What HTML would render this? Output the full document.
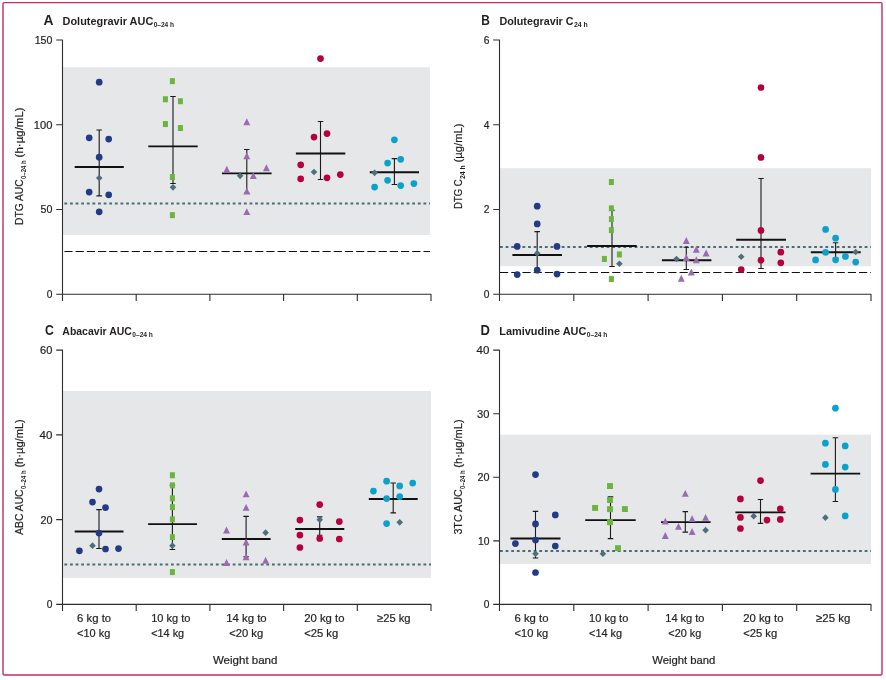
<!DOCTYPE html>
<html lang="en">
<head>
<meta charset="utf-8">
<title>Figure: pharmacokinetic parameters by weight band</title>
<style>
html,body{margin:0;padding:0;background:#fff;}
body{width:886px;height:680px;overflow:hidden;}
svg{display:block;}
svg text{font-family:"Liberation Sans",sans-serif;fill:#231f20;stroke:#231f20;stroke-width:0.22px;paint-order:stroke fill;}
svg text.t{stroke:none;}
</style>
</head>
<body>
<svg width="886" height="680" viewBox="0 0 886 680">
<rect width="886" height="680" fill="#fff"/>
<rect x="3" y="2.6" width="879" height="672.4" rx="1.2" ry="1.2" fill="#fff" stroke="#c42e5d" stroke-width="1.4"/>
<rect x="62.5" y="67.2" width="367.5" height="167.8" fill="#e6e7e9"/>
<path d="M64.4 251.5H430.0" stroke="#111" stroke-width="1" stroke-dasharray="8.2 3.02" fill="none"/>
<text x="52.4" y="43.9" font-size="11.5" font-weight="normal" text-anchor="end" textLength="17.7" lengthAdjust="spacingAndGlyphs">150</text>
<text x="52.4" y="128.7" font-size="11.5" font-weight="normal" text-anchor="end" textLength="18.6" lengthAdjust="spacingAndGlyphs">100</text>
<text x="52.4" y="213.4" font-size="11.5" font-weight="normal" text-anchor="end" textLength="11.9" lengthAdjust="spacingAndGlyphs">50</text>
<text x="52.4" y="298.2" font-size="11.5" font-weight="normal" text-anchor="end" textLength="5.7" lengthAdjust="spacingAndGlyphs">0</text>
<path d="M64.4 203.5H430.0" stroke="#4a6d74" stroke-width="2.0" stroke-dasharray="2.8 2.81" fill="none"/>
<path d="M56.2 40.00H62.5V301.0M56.2 294.30H431.0v6.7M56.2 124.77H62.5M56.2 209.53H62.5M136.20 294.30v6.7M209.90 294.30v6.7M283.60 294.30v6.7M357.30 294.30v6.7" stroke="#2e2e2e" stroke-width="1.1" stroke-linejoin="round" fill="none"/>
<path d="M99.20 130.05V195.85M96.45 130.05h5.5M96.45 195.85h5.5" stroke="#1a1a1a" stroke-width="1.1" fill="none"/>
<path d="M74.70 167.05H123.80" stroke="#111" stroke-width="1.9" fill="none"/>
<circle cx="99.2" cy="82.2" r="3.35" fill="#233a85"/>
<circle cx="89.2" cy="137.8" r="3.35" fill="#233a85"/>
<circle cx="108.7" cy="139.1" r="3.35" fill="#233a85"/>
<circle cx="99.2" cy="157.2" r="3.35" fill="#233a85"/>
<circle cx="89.2" cy="192.1" r="3.35" fill="#233a85"/>
<circle cx="108.7" cy="194.8" r="3.35" fill="#233a85"/>
<circle cx="99.2" cy="211.8" r="3.35" fill="#233a85"/>
<path d="M99.20 174.75L102.50 178.05L99.20 181.35L95.90 178.05Z" fill="#4d6f7a"/>
<path d="M173.00 96.45V183.55M170.25 96.45h5.5M170.25 183.55h5.5" stroke="#1a1a1a" stroke-width="1.1" fill="none"/>
<path d="M148.30 146.35H197.70" stroke="#111" stroke-width="1.9" fill="none"/>
<rect x="169.90" y="78.15" width="5.0" height="6.0" fill="#6bb43f"/>
<rect x="162.90" y="96.25" width="5.0" height="6.0" fill="#6bb43f"/>
<rect x="177.90" y="98.25" width="5.0" height="6.0" fill="#6bb43f"/>
<rect x="162.90" y="121.05" width="5.0" height="6.0" fill="#6bb43f"/>
<rect x="177.90" y="125.05" width="5.0" height="6.0" fill="#6bb43f"/>
<rect x="169.90" y="174.05" width="5.0" height="6.0" fill="#6bb43f"/>
<rect x="169.90" y="212.15" width="5.0" height="6.0" fill="#6bb43f"/>
<path d="M173.00 184.05L176.30 187.35L173.00 190.65L169.70 187.35Z" fill="#4d6f7a"/>
<path d="M246.80 149.55V193.25M244.05 149.55h5.5M244.05 193.25h5.5" stroke="#1a1a1a" stroke-width="1.1" fill="none"/>
<path d="M222.00 173.35H271.60" stroke="#111" stroke-width="1.9" fill="none"/>
<path d="M246.80 118.30L250.25 125.20H243.35Z" fill="#9a6bb1"/>
<path d="M246.80 152.30L250.25 159.20H243.35Z" fill="#9a6bb1"/>
<path d="M226.80 165.80L230.25 172.70H223.35Z" fill="#9a6bb1"/>
<path d="M266.40 164.30L269.85 171.20H262.95Z" fill="#9a6bb1"/>
<path d="M253.30 172.10L256.75 179.00H249.85Z" fill="#9a6bb1"/>
<path d="M246.80 187.60L250.25 194.50H243.35Z" fill="#9a6bb1"/>
<path d="M246.80 208.20L250.25 215.10H243.35Z" fill="#9a6bb1"/>
<path d="M240.10 172.55L243.40 175.85L240.10 179.15L236.80 175.85Z" fill="#4d6f7a"/>
<path d="M320.50 121.55V179.55M317.75 121.55h5.5M317.75 179.55h5.5" stroke="#1a1a1a" stroke-width="1.1" fill="none"/>
<path d="M295.90 153.45H345.30" stroke="#111" stroke-width="1.9" fill="none"/>
<circle cx="320.5" cy="58.6" r="3.35" fill="#b5003b"/>
<circle cx="314.0" cy="137.1" r="3.35" fill="#b5003b"/>
<circle cx="327.0" cy="133.6" r="3.35" fill="#b5003b"/>
<circle cx="300.7" cy="164.8" r="3.35" fill="#b5003b"/>
<circle cx="300.7" cy="178.8" r="3.35" fill="#b5003b"/>
<circle cx="327.0" cy="177.8" r="3.35" fill="#b5003b"/>
<circle cx="340.3" cy="174.6" r="3.35" fill="#b5003b"/>
<path d="M314.00 168.75L317.30 172.05L314.00 175.35L310.70 172.05Z" fill="#4d6f7a"/>
<path d="M394.40 158.65V184.55M391.65 158.65h5.5M391.65 184.55h5.5" stroke="#1a1a1a" stroke-width="1.1" fill="none"/>
<path d="M369.80 172.25H419.00" stroke="#111" stroke-width="1.9" fill="none"/>
<circle cx="394.4" cy="139.8" r="3.35" fill="#0aa2cb"/>
<circle cx="400.7" cy="159.3" r="3.35" fill="#0aa2cb"/>
<circle cx="387.6" cy="163.1" r="3.35" fill="#0aa2cb"/>
<circle cx="387.6" cy="180.3" r="3.35" fill="#0aa2cb"/>
<circle cx="374.6" cy="187.1" r="3.35" fill="#0aa2cb"/>
<circle cx="400.7" cy="185.6" r="3.35" fill="#0aa2cb"/>
<circle cx="413.9" cy="183.6" r="3.35" fill="#0aa2cb"/>
<path d="M374.60 169.55L377.90 172.85L374.60 176.15L371.30 172.85Z" fill="#4d6f7a"/>
<rect x="499.5" y="168.2" width="371.5" height="98.0" fill="#e6e7e9"/>
<path d="M500.0 272.5H871.0" stroke="#111" stroke-width="1" stroke-dasharray="8.2 3.02" fill="none"/>
<text x="489.4" y="43.9" font-size="11.5" font-weight="normal" text-anchor="end" textLength="5.7" lengthAdjust="spacingAndGlyphs">6</text>
<text x="489.4" y="128.7" font-size="11.5" font-weight="normal" text-anchor="end" textLength="5.7" lengthAdjust="spacingAndGlyphs">4</text>
<text x="489.4" y="213.4" font-size="11.5" font-weight="normal" text-anchor="end" textLength="5.7" lengthAdjust="spacingAndGlyphs">2</text>
<text x="489.4" y="298.2" font-size="11.5" font-weight="normal" text-anchor="end" textLength="5.7" lengthAdjust="spacingAndGlyphs">0</text>
<path d="M500.0 246.9H871.0" stroke="#4a6d74" stroke-width="2.0" stroke-dasharray="2.8 2.81" fill="none"/>
<path d="M493.2 40.00H499.5V301.0M493.2 294.30H871.0v6.7M493.2 124.77H499.5M493.2 209.53H499.5M573.80 294.30v6.7M648.10 294.30v6.7M722.40 294.30v6.7M796.70 294.30v6.7" stroke="#2e2e2e" stroke-width="1.1" stroke-linejoin="round" fill="none"/>
<path d="M537.20 231.65V270.25M534.45 231.65h5.5M534.45 270.25h5.5" stroke="#1a1a1a" stroke-width="1.1" fill="none"/>
<path d="M512.40 254.95H562.00" stroke="#111" stroke-width="1.9" fill="none"/>
<circle cx="537.2" cy="206.2" r="3.35" fill="#233a85"/>
<circle cx="537.2" cy="223.9" r="3.35" fill="#233a85"/>
<circle cx="517.2" cy="246.4" r="3.35" fill="#233a85"/>
<circle cx="557.0" cy="246.4" r="3.35" fill="#233a85"/>
<circle cx="537.2" cy="270.2" r="3.35" fill="#233a85"/>
<circle cx="517.2" cy="274.6" r="3.35" fill="#233a85"/>
<circle cx="557.0" cy="274.1" r="3.35" fill="#233a85"/>
<path d="M537.20 249.95L540.50 253.25L537.20 256.55L533.90 253.25Z" fill="#4d6f7a"/>
<path d="M612.00 210.25V266.55M609.25 210.25h5.5M609.25 266.55h5.5" stroke="#1a1a1a" stroke-width="1.1" fill="none"/>
<path d="M587.10 245.95H636.70" stroke="#111" stroke-width="1.9" fill="none"/>
<rect x="608.90" y="179.05" width="5.0" height="6.0" fill="#6bb43f"/>
<rect x="608.90" y="205.35" width="5.0" height="6.0" fill="#6bb43f"/>
<rect x="608.90" y="216.15" width="5.0" height="6.0" fill="#6bb43f"/>
<rect x="608.90" y="227.15" width="5.0" height="6.0" fill="#6bb43f"/>
<rect x="616.90" y="251.45" width="5.0" height="6.0" fill="#6bb43f"/>
<rect x="601.90" y="255.95" width="5.0" height="6.0" fill="#6bb43f"/>
<rect x="608.90" y="276.05" width="5.0" height="6.0" fill="#6bb43f"/>
<path d="M619.40 260.45L622.70 263.75L619.40 267.05L616.10 263.75Z" fill="#4d6f7a"/>
<path d="M686.30 247.25V269.55M683.55 247.25h5.5M683.55 269.55h5.5" stroke="#1a1a1a" stroke-width="1.1" fill="none"/>
<path d="M661.90 260.25H711.40" stroke="#111" stroke-width="1.9" fill="none"/>
<path d="M686.30 237.00L689.75 243.90H682.85Z" fill="#9a6bb1"/>
<path d="M696.30 245.80L699.75 252.70H692.85Z" fill="#9a6bb1"/>
<path d="M706.10 249.50L709.55 256.40H702.65Z" fill="#9a6bb1"/>
<path d="M686.30 254.00L689.75 260.90H682.85Z" fill="#9a6bb1"/>
<path d="M696.30 256.30L699.75 263.20H692.85Z" fill="#9a6bb1"/>
<path d="M691.30 268.60L694.75 275.50H687.85Z" fill="#9a6bb1"/>
<path d="M681.30 274.80L684.75 281.70H677.85Z" fill="#9a6bb1"/>
<path d="M676.50 255.65L679.80 258.95L676.50 262.25L673.20 258.95Z" fill="#4d6f7a"/>
<path d="M761.00 178.55V268.55M758.25 178.55h5.5M758.25 268.55h5.5" stroke="#1a1a1a" stroke-width="1.1" fill="none"/>
<path d="M736.20 239.75H786.00" stroke="#111" stroke-width="1.9" fill="none"/>
<circle cx="761.0" cy="87.5" r="3.35" fill="#b5003b"/>
<circle cx="761.0" cy="157.4" r="3.35" fill="#b5003b"/>
<circle cx="761.0" cy="230.4" r="3.35" fill="#b5003b"/>
<circle cx="780.8" cy="252.2" r="3.35" fill="#b5003b"/>
<circle cx="761.0" cy="260.2" r="3.35" fill="#b5003b"/>
<circle cx="780.8" cy="262.8" r="3.35" fill="#b5003b"/>
<circle cx="741.2" cy="269.6" r="3.35" fill="#b5003b"/>
<path d="M741.20 253.45L744.50 256.75L741.20 260.05L737.90 256.75Z" fill="#4d6f7a"/>
<path d="M835.60 242.75V257.95M832.85 242.75h5.5M832.85 257.95h5.5" stroke="#1a1a1a" stroke-width="1.1" fill="none"/>
<path d="M810.80 252.25H860.70" stroke="#111" stroke-width="1.9" fill="none"/>
<circle cx="825.6" cy="229.4" r="3.35" fill="#0aa2cb"/>
<circle cx="835.6" cy="238.2" r="3.35" fill="#0aa2cb"/>
<circle cx="825.6" cy="252.4" r="3.35" fill="#0aa2cb"/>
<circle cx="845.4" cy="256.4" r="3.35" fill="#0aa2cb"/>
<circle cx="815.6" cy="259.9" r="3.35" fill="#0aa2cb"/>
<circle cx="835.6" cy="259.8" r="3.35" fill="#0aa2cb"/>
<circle cx="855.7" cy="262.1" r="3.35" fill="#0aa2cb"/>
<path d="M855.70 248.65L859.00 251.95L855.70 255.25L852.40 251.95Z" fill="#4d6f7a"/>
<rect x="62.5" y="390.9" width="368.5" height="187.0" fill="#e6e7e9"/>
<text x="52.4" y="354.0" font-size="11.5" font-weight="normal" text-anchor="end" textLength="12.3" lengthAdjust="spacingAndGlyphs">60</text>
<text x="52.4" y="438.8" font-size="11.5" font-weight="normal" text-anchor="end" textLength="12.8" lengthAdjust="spacingAndGlyphs">40</text>
<text x="52.4" y="523.5" font-size="11.5" font-weight="normal" text-anchor="end" textLength="12.0" lengthAdjust="spacingAndGlyphs">20</text>
<text x="52.4" y="608.3" font-size="11.5" font-weight="normal" text-anchor="end" textLength="5.7" lengthAdjust="spacingAndGlyphs">0</text>
<path d="M64.4 564.4H431.0" stroke="#4a6d74" stroke-width="2.0" stroke-dasharray="2.8 2.81" fill="none"/>
<path d="M56.2 350.10H62.5V611.1M56.2 604.40H431.0v6.7M56.2 434.87H62.5M56.2 519.63H62.5M136.20 604.40v6.7M209.90 604.40v6.7M283.60 604.40v6.7M357.30 604.40v6.7" stroke="#2e2e2e" stroke-width="1.1" stroke-linejoin="round" fill="none"/>
<path d="M99.00 509.65V548.45M96.25 509.65h5.5M96.25 548.45h5.5" stroke="#1a1a1a" stroke-width="1.1" fill="none"/>
<path d="M74.70 531.45H123.50" stroke="#111" stroke-width="1.9" fill="none"/>
<circle cx="99.0" cy="489.1" r="3.35" fill="#233a85"/>
<circle cx="92.5" cy="502.1" r="3.35" fill="#233a85"/>
<circle cx="105.5" cy="507.6" r="3.35" fill="#233a85"/>
<circle cx="99.0" cy="533.1" r="3.35" fill="#233a85"/>
<circle cx="79.4" cy="550.8" r="3.35" fill="#233a85"/>
<circle cx="105.5" cy="549.0" r="3.35" fill="#233a85"/>
<circle cx="118.5" cy="548.6" r="3.35" fill="#233a85"/>
<path d="M92.50 542.35L95.80 545.65L92.50 548.95L89.20 545.65Z" fill="#4d6f7a"/>
<path d="M172.40 485.25V549.45M169.65 485.25h5.5M169.65 549.45h5.5" stroke="#1a1a1a" stroke-width="1.1" fill="none"/>
<path d="M148.10 524.15H197.00" stroke="#111" stroke-width="1.9" fill="none"/>
<rect x="169.90" y="472.25" width="5.0" height="6.0" fill="#6bb43f"/>
<rect x="169.90" y="482.35" width="5.0" height="6.0" fill="#6bb43f"/>
<rect x="169.90" y="495.35" width="5.0" height="6.0" fill="#6bb43f"/>
<rect x="169.90" y="504.15" width="5.0" height="6.0" fill="#6bb43f"/>
<rect x="169.90" y="516.35" width="5.0" height="6.0" fill="#6bb43f"/>
<rect x="169.90" y="534.15" width="5.0" height="6.0" fill="#6bb43f"/>
<rect x="169.90" y="569.05" width="5.0" height="6.0" fill="#6bb43f"/>
<path d="M172.40 542.35L175.70 545.65L172.40 548.95L169.10 545.65Z" fill="#4d6f7a"/>
<path d="M246.10 516.35V556.75M243.35 516.35h5.5M243.35 556.75h5.5" stroke="#1a1a1a" stroke-width="1.1" fill="none"/>
<path d="M221.80 538.95H270.60" stroke="#111" stroke-width="1.9" fill="none"/>
<path d="M246.10 490.40L249.55 497.30H242.65Z" fill="#9a6bb1"/>
<path d="M246.10 503.90L249.55 510.80H242.65Z" fill="#9a6bb1"/>
<path d="M226.50 526.50L229.95 533.40H223.05Z" fill="#9a6bb1"/>
<path d="M246.10 538.50L249.55 545.40H242.65Z" fill="#9a6bb1"/>
<path d="M246.10 553.30L249.55 560.20H242.65Z" fill="#9a6bb1"/>
<path d="M226.50 559.00L229.95 565.90H223.05Z" fill="#9a6bb1"/>
<path d="M265.60 556.80L269.05 563.70H262.15Z" fill="#9a6bb1"/>
<path d="M265.60 529.35L268.90 532.65L265.60 535.95L262.30 532.65Z" fill="#4d6f7a"/>
<path d="M319.70 516.85V535.25M316.95 516.85h5.5M316.95 535.25h5.5" stroke="#1a1a1a" stroke-width="1.1" fill="none"/>
<path d="M295.20 528.95H344.30" stroke="#111" stroke-width="1.9" fill="none"/>
<circle cx="319.7" cy="504.6" r="3.35" fill="#b5003b"/>
<circle cx="299.9" cy="520.1" r="3.35" fill="#b5003b"/>
<circle cx="339.3" cy="521.6" r="3.35" fill="#b5003b"/>
<circle cx="299.9" cy="535.1" r="3.35" fill="#b5003b"/>
<circle cx="319.7" cy="538.5" r="3.35" fill="#b5003b"/>
<circle cx="339.3" cy="539.0" r="3.35" fill="#b5003b"/>
<circle cx="299.9" cy="547.5" r="3.35" fill="#b5003b"/>
<path d="M319.70 516.35L323.00 519.65L319.70 522.95L316.40 519.65Z" fill="#4d6f7a"/>
<path d="M393.20 483.05V512.85M390.45 483.05h5.5M390.45 512.85h5.5" stroke="#1a1a1a" stroke-width="1.1" fill="none"/>
<path d="M368.80 499.05H417.70" stroke="#111" stroke-width="1.9" fill="none"/>
<circle cx="386.6" cy="481.2" r="3.35" fill="#0aa2cb"/>
<circle cx="412.7" cy="483.1" r="3.35" fill="#0aa2cb"/>
<circle cx="399.7" cy="485.9" r="3.35" fill="#0aa2cb"/>
<circle cx="373.4" cy="491.1" r="3.35" fill="#0aa2cb"/>
<circle cx="399.7" cy="496.6" r="3.35" fill="#0aa2cb"/>
<circle cx="386.6" cy="498.6" r="3.35" fill="#0aa2cb"/>
<circle cx="386.6" cy="523.6" r="3.35" fill="#0aa2cb"/>
<path d="M399.70 519.05L403.00 522.35L399.70 525.65L396.40 522.35Z" fill="#4d6f7a"/>
<rect x="499.5" y="434.7" width="371.5" height="129.2" fill="#e6e7e9"/>
<text x="489.4" y="354.0" font-size="11.5" font-weight="normal" text-anchor="end" textLength="12.8" lengthAdjust="spacingAndGlyphs">40</text>
<text x="489.4" y="417.6" font-size="11.5" font-weight="normal" text-anchor="end" textLength="12.4" lengthAdjust="spacingAndGlyphs">30</text>
<text x="489.4" y="481.1" font-size="11.5" font-weight="normal" text-anchor="end" textLength="12.0" lengthAdjust="spacingAndGlyphs">20</text>
<text x="489.4" y="544.7" font-size="11.5" font-weight="normal" text-anchor="end" textLength="11.5" lengthAdjust="spacingAndGlyphs">10</text>
<text x="489.4" y="608.3" font-size="11.5" font-weight="normal" text-anchor="end" textLength="5.7" lengthAdjust="spacingAndGlyphs">0</text>
<path d="M500.0 550.9H871.0" stroke="#4a6d74" stroke-width="2.0" stroke-dasharray="2.8 2.81" fill="none"/>
<path d="M493.2 350.10H499.5V611.1M493.2 604.40H871.0v6.7M493.2 413.68H499.5M493.2 477.25H499.5M493.2 540.83H499.5M573.80 604.40v6.7M648.10 604.40v6.7M722.40 604.40v6.7M796.70 604.40v6.7" stroke="#2e2e2e" stroke-width="1.1" stroke-linejoin="round" fill="none"/>
<path d="M535.50 511.35V557.95M532.75 511.35h5.5M532.75 557.95h5.5" stroke="#1a1a1a" stroke-width="1.1" fill="none"/>
<path d="M510.40 538.45H560.50" stroke="#111" stroke-width="1.9" fill="none"/>
<circle cx="535.5" cy="474.6" r="3.35" fill="#233a85"/>
<circle cx="555.3" cy="514.9" r="3.35" fill="#233a85"/>
<circle cx="535.5" cy="523.9" r="3.35" fill="#233a85"/>
<circle cx="535.5" cy="540.0" r="3.35" fill="#233a85"/>
<circle cx="515.4" cy="543.6" r="3.35" fill="#233a85"/>
<circle cx="555.3" cy="546.0" r="3.35" fill="#233a85"/>
<circle cx="535.5" cy="572.5" r="3.35" fill="#233a85"/>
<path d="M535.50 550.45L538.80 553.75L535.50 557.05L532.20 553.75Z" fill="#4d6f7a"/>
<path d="M610.50 496.85V538.65M607.75 496.85h5.5M607.75 538.65h5.5" stroke="#1a1a1a" stroke-width="1.1" fill="none"/>
<path d="M585.20 520.15H635.70" stroke="#111" stroke-width="1.9" fill="none"/>
<rect x="607.05" y="483.10" width="5.9" height="5.9" fill="#6bb43f"/>
<rect x="607.05" y="497.10" width="5.9" height="5.9" fill="#6bb43f"/>
<rect x="592.15" y="505.00" width="5.9" height="5.9" fill="#6bb43f"/>
<rect x="607.05" y="506.20" width="5.9" height="5.9" fill="#6bb43f"/>
<rect x="621.95" y="506.10" width="5.9" height="5.9" fill="#6bb43f"/>
<rect x="607.05" y="519.20" width="5.9" height="5.9" fill="#6bb43f"/>
<rect x="615.05" y="545.20" width="5.9" height="5.9" fill="#6bb43f"/>
<path d="M602.90 550.45L606.20 553.75L602.90 557.05L599.60 553.75Z" fill="#4d6f7a"/>
<path d="M685.30 511.65V532.15M682.55 511.65h5.5M682.55 532.15h5.5" stroke="#1a1a1a" stroke-width="1.1" fill="none"/>
<path d="M661.00 522.15H710.60" stroke="#111" stroke-width="1.9" fill="none"/>
<path d="M685.30 489.90L688.75 496.80H681.85Z" fill="#9a6bb1"/>
<path d="M705.60 513.90L709.05 520.80H702.15Z" fill="#9a6bb1"/>
<path d="M692.10 515.20L695.55 522.10H688.65Z" fill="#9a6bb1"/>
<path d="M665.30 517.70L668.75 524.60H661.85Z" fill="#9a6bb1"/>
<path d="M678.50 522.90L681.95 529.80H675.05Z" fill="#9a6bb1"/>
<path d="M692.10 528.00L695.55 534.90H688.65Z" fill="#9a6bb1"/>
<path d="M665.30 532.00L668.75 538.90H661.85Z" fill="#9a6bb1"/>
<path d="M705.60 526.85L708.90 530.15L705.60 533.45L702.30 530.15Z" fill="#4d6f7a"/>
<path d="M760.50 499.55V523.35M757.75 499.55h5.5M757.75 523.35h5.5" stroke="#1a1a1a" stroke-width="1.1" fill="none"/>
<path d="M735.40 512.35H785.50" stroke="#111" stroke-width="1.9" fill="none"/>
<circle cx="760.5" cy="480.6" r="3.35" fill="#b5003b"/>
<circle cx="740.4" cy="498.9" r="3.35" fill="#b5003b"/>
<circle cx="780.3" cy="508.9" r="3.35" fill="#b5003b"/>
<circle cx="740.4" cy="517.4" r="3.35" fill="#b5003b"/>
<circle cx="767.0" cy="520.1" r="3.35" fill="#b5003b"/>
<circle cx="780.3" cy="519.4" r="3.35" fill="#b5003b"/>
<circle cx="740.4" cy="528.5" r="3.35" fill="#b5003b"/>
<path d="M753.70 512.85L757.00 516.15L753.70 519.45L750.40 516.15Z" fill="#4d6f7a"/>
<path d="M835.40 437.75V501.55M832.65 437.75h5.5M832.65 501.55h5.5" stroke="#1a1a1a" stroke-width="1.1" fill="none"/>
<path d="M810.60 473.65H860.20" stroke="#111" stroke-width="1.9" fill="none"/>
<circle cx="835.4" cy="408.2" r="3.35" fill="#0aa2cb"/>
<circle cx="825.4" cy="443.2" r="3.35" fill="#0aa2cb"/>
<circle cx="845.2" cy="445.9" r="3.35" fill="#0aa2cb"/>
<circle cx="825.4" cy="464.4" r="3.35" fill="#0aa2cb"/>
<circle cx="845.2" cy="467.1" r="3.35" fill="#0aa2cb"/>
<circle cx="835.4" cy="489.4" r="3.35" fill="#0aa2cb"/>
<circle cx="845.2" cy="515.9" r="3.35" fill="#0aa2cb"/>
<path d="M825.40 514.35L828.70 517.65L825.40 520.95L822.10 517.65Z" fill="#4d6f7a"/>
<text x="43.5" y="24.9" font-size="14.4" font-weight="bold" text-anchor="start" textLength="10.0" lengthAdjust="spacingAndGlyphs" class="t">A</text>
<text x="62.5" y="24.9" font-size="11.2" font-weight="bold" text-anchor="start" textLength="90.8" lengthAdjust="spacingAndGlyphs" class="t">Dolutegravir AUC</text>
<text x="153.7" y="26.9" font-size="7.0" font-weight="bold" text-anchor="start" textLength="20.4" lengthAdjust="spacingAndGlyphs" class="t">0–24 h</text>
<text x="481.3" y="24.9" font-size="14.4" font-weight="bold" text-anchor="start" textLength="8.6" lengthAdjust="spacingAndGlyphs" class="t">B</text>
<text x="499.4" y="24.9" font-size="11.2" font-weight="bold" text-anchor="start" textLength="74.2" lengthAdjust="spacingAndGlyphs" class="t">Dolutegravir C</text>
<text x="574.0" y="26.9" font-size="7.0" font-weight="bold" text-anchor="start" textLength="13.8" lengthAdjust="spacingAndGlyphs" class="t">24 h</text>
<text x="45.0" y="335.0" font-size="14.4" font-weight="bold" text-anchor="start" textLength="8.8" lengthAdjust="spacingAndGlyphs" class="t">C</text>
<text x="62.3" y="335.0" font-size="11.2" font-weight="bold" text-anchor="start" textLength="69.6" lengthAdjust="spacingAndGlyphs" class="t">Abacavir AUC</text>
<text x="132.3" y="337.0" font-size="7.0" font-weight="bold" text-anchor="start" textLength="20.6" lengthAdjust="spacingAndGlyphs" class="t">0–24 h</text>
<text x="480.4" y="335.0" font-size="14.4" font-weight="bold" text-anchor="start" textLength="9.4" lengthAdjust="spacingAndGlyphs" class="t">D</text>
<text x="499.2" y="335.0" font-size="11.2" font-weight="bold" text-anchor="start" textLength="87.2" lengthAdjust="spacingAndGlyphs" class="t">Lamivudine AUC</text>
<text x="586.8" y="337.0" font-size="7.0" font-weight="bold" text-anchor="start" textLength="20.6" lengthAdjust="spacingAndGlyphs" class="t">0–24 h</text>
<g transform="translate(22.9 225.0) rotate(-90)">
<text x="0.0" y="0.0" font-size="11.5" font-weight="normal" text-anchor="start" textLength="45.7" lengthAdjust="spacingAndGlyphs">DTG AUC</text>
<text x="46.0" y="3.1" font-size="7.0" font-weight="bold" text-anchor="start" textLength="18.8" lengthAdjust="spacingAndGlyphs" class="t">0–24 h</text>
<text x="67.6" y="0.0" font-size="11.5" font-weight="normal" text-anchor="start" textLength="50.0" lengthAdjust="spacingAndGlyphs">(h·µg/mL)</text>
</g>
<g transform="translate(462.0 209.1) rotate(-90)">
<text x="0.0" y="0.0" font-size="11.5" font-weight="normal" text-anchor="start" textLength="29.8" lengthAdjust="spacingAndGlyphs">DTG C</text>
<text x="30.1" y="3.1" font-size="7.0" font-weight="bold" text-anchor="start" textLength="13.8" lengthAdjust="spacingAndGlyphs" class="t">24 h</text>
<text x="46.7" y="0.0" font-size="11.5" font-weight="normal" text-anchor="start" textLength="38.9" lengthAdjust="spacingAndGlyphs">(µg/mL)</text>
</g>
<g transform="translate(22.9 534.8) rotate(-90)">
<text x="0.0" y="0.0" font-size="11.5" font-weight="normal" text-anchor="start" textLength="45.4" lengthAdjust="spacingAndGlyphs">ABC AUC</text>
<text x="45.7" y="3.1" font-size="7.0" font-weight="bold" text-anchor="start" textLength="18.8" lengthAdjust="spacingAndGlyphs" class="t">0–24 h</text>
<text x="67.2" y="0.0" font-size="11.5" font-weight="normal" text-anchor="start" textLength="48.4" lengthAdjust="spacingAndGlyphs">(h·µg/mL)</text>
</g>
<g transform="translate(462.3 534.6) rotate(-90)">
<text x="0.0" y="0.0" font-size="11.5" font-weight="normal" text-anchor="start" textLength="45.3" lengthAdjust="spacingAndGlyphs">3TC AUC</text>
<text x="45.6" y="3.1" font-size="7.0" font-weight="bold" text-anchor="start" textLength="18.6" lengthAdjust="spacingAndGlyphs" class="t">0–24 h</text>
<text x="66.9" y="0.0" font-size="11.5" font-weight="normal" text-anchor="start" textLength="48.3" lengthAdjust="spacingAndGlyphs">(h·µg/mL)</text>
</g>
<text x="77.1" y="621.8" font-size="11.5" font-weight="normal" text-anchor="start" textLength="34.0" lengthAdjust="spacingAndGlyphs">6 kg to</text>
<text x="77.1" y="637.3" font-size="11.5" font-weight="normal" text-anchor="start" textLength="33.2" lengthAdjust="spacingAndGlyphs">&lt;10 kg</text>
<text x="151.2" y="621.8" font-size="11.5" font-weight="normal" text-anchor="start" textLength="39.2" lengthAdjust="spacingAndGlyphs">10 kg to</text>
<text x="151.2" y="637.3" font-size="11.5" font-weight="normal" text-anchor="start" textLength="33.0" lengthAdjust="spacingAndGlyphs">&lt;14 kg</text>
<text x="226.2" y="621.8" font-size="11.5" font-weight="normal" text-anchor="start" textLength="40.5" lengthAdjust="spacingAndGlyphs">14 kg to</text>
<text x="229.2" y="637.3" font-size="11.5" font-weight="normal" text-anchor="start" textLength="34.0" lengthAdjust="spacingAndGlyphs">&lt;20 kg</text>
<text x="304.2" y="621.8" font-size="11.5" font-weight="normal" text-anchor="start" textLength="40.3" lengthAdjust="spacingAndGlyphs">20 kg to</text>
<text x="304.2" y="637.3" font-size="11.5" font-weight="normal" text-anchor="start" textLength="34.0" lengthAdjust="spacingAndGlyphs">&lt;25 kg</text>
<text x="377.1" y="621.8" font-size="11.5" font-weight="normal" text-anchor="start" textLength="33.5" lengthAdjust="spacingAndGlyphs">≥25 kg</text>
<text x="514.5" y="621.8" font-size="11.5" font-weight="normal" text-anchor="start" textLength="34.0" lengthAdjust="spacingAndGlyphs">6 kg to</text>
<text x="514.5" y="637.3" font-size="11.5" font-weight="normal" text-anchor="start" textLength="33.6" lengthAdjust="spacingAndGlyphs">&lt;10 kg</text>
<text x="589.1" y="621.8" font-size="11.5" font-weight="normal" text-anchor="start" textLength="39.2" lengthAdjust="spacingAndGlyphs">10 kg to</text>
<text x="589.1" y="637.3" font-size="11.5" font-weight="normal" text-anchor="start" textLength="33.0" lengthAdjust="spacingAndGlyphs">&lt;14 kg</text>
<text x="665.3" y="621.8" font-size="11.5" font-weight="normal" text-anchor="start" textLength="39.2" lengthAdjust="spacingAndGlyphs">14 kg to</text>
<text x="668.3" y="637.3" font-size="11.5" font-weight="normal" text-anchor="start" textLength="33.0" lengthAdjust="spacingAndGlyphs">&lt;20 kg</text>
<text x="743.2" y="621.8" font-size="11.5" font-weight="normal" text-anchor="start" textLength="40.3" lengthAdjust="spacingAndGlyphs">20 kg to</text>
<text x="743.2" y="637.3" font-size="11.5" font-weight="normal" text-anchor="start" textLength="34.0" lengthAdjust="spacingAndGlyphs">&lt;25 kg</text>
<text x="816.1" y="621.8" font-size="11.5" font-weight="normal" text-anchor="start" textLength="34.2" lengthAdjust="spacingAndGlyphs">≥25 kg</text>
<text x="245.2" y="663.9" font-size="11.5" font-weight="normal" text-anchor="middle" textLength="64.5" lengthAdjust="spacingAndGlyphs">Weight band</text>
<text x="683.8" y="663.9" font-size="11.5" font-weight="normal" text-anchor="middle" textLength="63.2" lengthAdjust="spacingAndGlyphs">Weight band</text>
</svg>
</body>
</html>
